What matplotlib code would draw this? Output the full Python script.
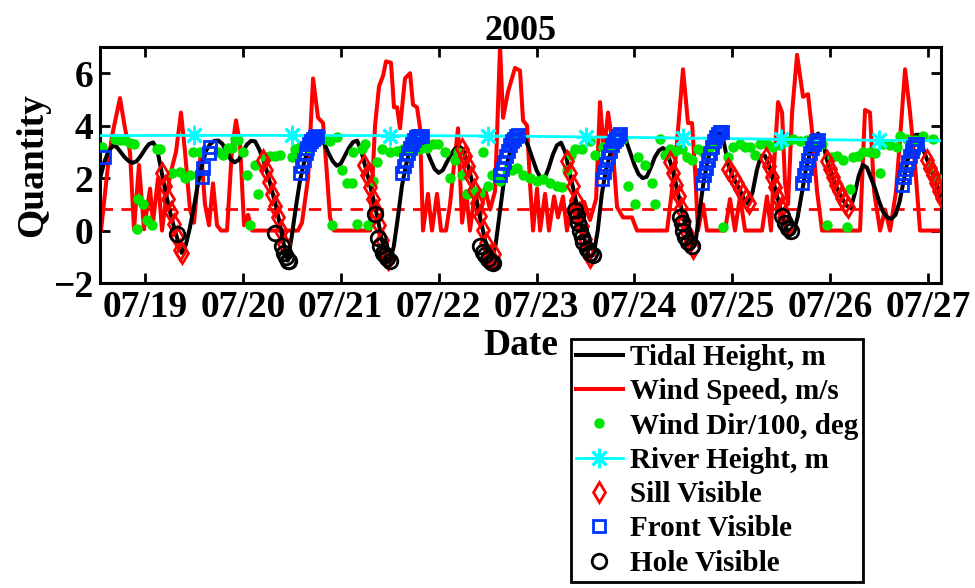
import numpy as np
import matplotlib
matplotlib.use('Agg')
import matplotlib.pyplot as plt
from matplotlib.lines import Line2D

plt.rcParams['font.family'] = ['Liberation Serif', 'DejaVu Serif']
plt.rcParams['font.weight'] = 'bold'
plt.rcParams['axes.labelweight'] = 'bold'
plt.rcParams['axes.titleweight'] = 'bold'

# tidal height, hourly from 07/18 12:00 (m)
tide_start = 18.5
tide_h = [1.5, 2.0, 2.6, 3.0, 3.22, 3.2, 3.0, 2.8, 2.65, 2.58, 2.65, 2.85, 3.1, 3.3, 3.36,
          3.1, 2.3, 1.5, 0.8, 0.2, -0.35, -0.85,
          -0.55, 0.1, 0.9, 1.8, 2.5, 3.05, 3.3, 3.42, 3.43,
          3.3, 3.0, 2.72, 2.6, 2.7, 3.0, 3.28, 3.42, 3.4,
          3.1, 2.7, 2.2, 1.6, 1.0, 0.3, -0.5, -1.15,
          -0.2, 0.9, 1.9, 2.6, 3.1, 3.45, 3.6, 3.55,
          3.3, 2.95, 2.65, 2.47, 2.55, 2.85, 3.15, 3.37, 3.43,
          3.05, 2.45, 1.85, 1.2, 0.5, -0.3, -1.0, -1.2,
          -0.6, 0.5, 1.7, 2.5, 3.1, 3.5, 3.6, 3.45,
          3.1, 2.7, 2.35, 2.2, 2.3, 2.6, 2.9, 3.12, 3.2,
          3.1, 2.6, 2.0, 1.3, 0.6, -0.1, -0.8, -1.1,
          -0.5, 0.7, 1.9, 2.7, 3.25, 3.6, 3.7, 3.55,
          3.2, 2.75, 2.3, 2.0, 2.0, 2.4, 2.9, 3.25, 3.35,
          3.0, 2.3, 1.6, 0.9, 0.2, -0.5, -1.05, -0.9,
          0.0, 1.4, 2.3, 2.9, 3.35, 3.65, 3.65,
          3.4, 2.95, 2.5, 2.15, 2.0, 2.05, 2.4, 2.8, 3.05, 3.15,
          3.0, 2.5, 1.9, 1.2, 0.5, -0.15, -0.6, -0.4,
          0.8, 1.9, 2.7, 3.25, 3.6, 3.75, 3.3,
          2.5, 2.1, 1.8, 1.5, 1.15, 1.0,
          1.5, 2.3, 2.85, 2.85, 2.5, 1.9, 1.3, 0.7, 0.2, -0.2, -0.05, 0.5,
          1.4, 2.3, 2.95, 3.4, 3.7, 3.55,
          2.8, 2.3, 1.85, 1.5, 1.2, 0.95, 0.85, 1.4, 2.1, 2.5,
          2.4, 2.0, 1.6, 1.1, 0.7, 0.5, 0.45, 0.6,
          1.1, 1.9, 2.7, 3.3, 3.65, 3.65,
          3.0, 2.6, 2.2, 1.8, 1.35, 1.0]
tide_t = tide_start + np.arange(len(tide_h)) / 24.0

# wind speed (m/s), day of July
wind_t = [18.50, 18.551, 18.623, 18.663, 18.745, 18.796, 18.847, 18.888, 18.939, 18.990,
          19.052, 19.082, 19.133, 19.174, 19.225, 19.276, 19.317, 19.368, 19.409, 19.460,
          19.501, 19.542, 19.573, 19.613, 19.654, 19.695, 19.736, 19.777, 19.838, 19.889,
          19.930, 19.971, 20.012, 20.053, 20.094, 20.563, 20.604, 20.666, 20.717, 20.768,
          20.819, 20.850, 20.890, 20.931, 21.299, 21.350, 21.391, 21.432, 21.462, 21.513,
          21.544, 21.575, 21.605, 21.656, 21.708, 21.738, 21.779, 21.810, 21.840, 21.891,
          21.932, 21.983, 22.024, 22.075, 22.116, 22.157, 22.198, 22.239, 22.280, 22.320,
          22.372, 22.423, 22.474, 22.525, 22.576, 22.627, 22.658, 22.709, 22.780, 22.831,
          22.862, 22.903, 22.933, 22.964, 23.005, 23.036, 23.087, 23.127, 23.179, 23.219,
          23.270, 23.311, 23.362, 23.424, 23.485, 23.546, 23.608, 23.648, 23.689, 23.730,
          23.771, 23.822, 23.883, 23.975, 24.026, 24.333, 24.415, 24.496, 24.547, 24.588,
          24.619, 24.649, 24.701, 24.741, 24.925, 24.976, 25.027, 25.078, 25.130, 25.303,
          25.354, 25.395, 25.426, 25.467, 25.508, 25.538, 25.569, 25.610, 25.661, 25.722,
          25.773, 25.814, 25.865, 25.916, 26.304, 26.355, 26.406, 26.447, 26.509, 26.560,
          26.611, 26.672, 26.713, 26.764, 26.815, 26.866, 26.917, 27.173]
wind_v = [0.0, 0.0, 2.5, 3.6, 5.05, 3.9, 3.0, 0.05, 2.5, 0.05,
          1.6, 0.3, 2.0, 0.0, 1.5, 2.4, 3.0, 4.5, 3.0, 0.8,
          0.3, 2.0, 3.0, 1.0, 0.2, 1.8, 0.2, 0.0, 0.0, 3.1,
          4.2, 3.3, 0.2, 0.6, 0.0, 0.0, 0.3, 2.0, 5.8, 4.3,
          4.1, 2.6, 0.5, 0.0, 0.0, 4.0, 5.5, 5.9, 6.45, 6.4,
          4.7, 4.7, 3.9, 5.8, 6.0, 4.8, 4.7, 3.9, 0.0, 1.4,
          0.0, 1.4, 0.0, 0.0, 1.0, 2.5, 3.9, 0.3, 1.5, 0.0,
          1.5, 0.5, 1.6, 0.8, 1.5, 7.0, 4.3, 5.3, 6.2, 6.1,
          4.2, 4.0, 1.8, 0.0, 1.6, 0.0, 1.4, 0.0, 1.3, 0.5,
          1.3, 0.0, 1.2, 0.0, 1.1, 0.4, 1.2, 4.9, 3.0, 4.5,
          3.5, 0.9, 0.5, 0.5, 0.0, 0.0, 2.5, 6.15, 4.1, 4.1,
          2.3, 0.0, 1.0, 0.0, 0.0, 1.2, 0.0, 1.3, 0.0, 0.0,
          1.3, 0.0, 2.5, 4.9, 4.5, 1.8, 1.0, 4.5, 6.7, 5.1,
          5.2, 3.8, 1.5, 0.0, 0.0, 4.6, 4.5, 1.5, 0.0, 0.8,
          0.0, 1.5, 3.5, 6.15, 4.5, 2.5, 0.0, 0.0]

# wind direction / 100 (deg)
wdir_t = [18.561, 18.694, 18.745, 18.796, 18.847, 18.888, 18.919, 18.929, 18.980, 19.021,
          19.072, 19.123, 19.154, 19.276, 19.358, 19.409, 19.460, 19.491, 19.562, 19.746,
          19.797, 19.848, 19.889, 19.920, 19.951, 20.002, 20.042, 20.073, 20.124, 20.155,
          20.226, 20.277, 20.329, 20.380, 20.502, 20.533, 20.584, 20.686, 20.768, 20.839,
          20.890, 20.911, 20.962, 21.013, 21.064, 21.115, 21.125, 21.166, 21.217, 21.248,
          21.278, 21.330, 21.370, 21.421, 21.503, 21.575, 21.636, 21.708, 21.759, 21.810,
          21.881, 21.942, 21.994, 22.065, 22.116, 22.167, 22.198, 22.239, 22.290, 22.351,
          22.423, 22.453, 22.504, 22.545, 22.586, 22.627, 22.698, 22.749, 22.801, 22.862,
          22.933, 23.005, 23.066, 23.138, 23.209, 23.260, 23.311, 23.352, 23.393, 23.465,
          23.546, 23.597, 23.679, 23.751, 23.802, 23.853, 23.883, 23.934, 24.006, 24.037,
          24.108, 24.180, 24.210, 24.261, 24.312, 24.363, 24.415, 24.486, 24.537, 24.588,
          24.649, 24.701, 24.772, 24.823, 24.905, 24.956, 25.007, 25.079, 25.130, 25.181,
          25.232, 25.283, 25.354, 25.416, 25.487, 25.559, 25.620, 25.691, 25.763, 25.844,
          25.916, 25.967, 26.018, 26.069, 26.130, 26.171, 26.202, 26.233, 26.284, 26.335,
          26.406, 26.458, 26.509, 26.539, 26.611, 26.682, 26.713, 26.784, 26.866, 26.948,
          26.999, 27.050, 27.101]
wdir_v = [3.2, 3.5, 3.45, 3.45, 3.35, 3.3, 0.05, 1.2, 1.0, 0.4,
          0.2, 3.1, 3.1, 2.2, 2.25, 2.0, 2.1, 3.0, 3.0, 3.0,
          2.9, 3.15, 3.15, 3.5, 3.45, 3.0, 2.1, 0.2, 2.5, 1.4,
          2.8, 2.85, 2.85, 2.9, 2.8, 3.1, 3.2, 3.1, 3.4, 3.5,
          3.4, 0.2, 3.55, 2.3, 1.8, 1.8, 3.0, 0.25, 3.1, 3.3,
          0.2, 1.9, 2.6, 3.1, 3.0, 3.05, 3.1, 3.05, 3.2, 3.1,
          3.15, 3.3, 3.3, 3.0, 2.0, 2.7, 3.0, 2.1, 1.4, 1.5,
          1.45, 3.0, 1.7, 2.1, 2.05, 1.9, 2.3, 2.3, 2.4, 2.1,
          2.0, 1.9, 1.95, 1.8, 1.7, 1.65, 2.3, 2.9, 3.1, 3.1,
          3.4, 2.9, 3.2, 3.2, 3.5, 3.6, 3.5, 1.7, 1.0, 2.8,
          2.5, 1.8, 1.0, 3.5, 2.9, 3.1, 3.05, 3.1, 2.8, 2.7,
          3.1, 3.0, 3.2, 3.3, 0.15, 2.8, 3.2, 3.3, 3.2, 3.2,
          2.9, 3.3, 3.3, 3.2, 3.25, 3.4, 3.5, 3.4, 3.45, 3.35,
          3.3, 0.2, 2.8, 2.85, 2.7, 0.15, 1.6, 2.8, 2.85, 3.0,
          3.0, 2.95, 2.2, 3.3, 3.25, 3.2, 3.6, 3.5, 3.45, 3.6,
          2.4, 3.5, 2.0]

# river height (m), daily at noon
river_t = [18.5, 19.5, 20.5, 21.5, 22.5, 23.5, 24.5, 25.5, 26.5, 27.5]
river_v = [3.62, 3.63, 3.63, 3.62, 3.61, 3.57, 3.53, 3.48, 3.44, 3.42]

wind_thresh = 0.82

# observations
sill_t = [19.174, 19.205, 19.235, 19.266, 19.297, 19.327, 19.358, 19.378,
          20.206, 20.237, 20.267, 20.298, 20.329, 20.359, 20.390, 20.420,
          21.24, 21.27, 21.30, 21.33, 21.36, 21.39, 21.42, 21.45, 21.48,
          22.24, 22.27, 22.30, 22.33, 22.36, 22.39, 22.42, 22.45, 22.48, 22.51, 22.54, 22.57,
          23.31, 23.34, 23.37, 23.40, 23.43, 23.46, 23.49, 23.52, 23.55,
          24.36, 24.39, 24.42, 24.45, 24.48, 24.51, 24.54, 24.57, 24.60,
          24.956, 24.987, 25.018, 25.048, 25.079, 25.110, 25.140, 25.171,
          25.344, 25.375, 25.405, 25.436, 25.467, 25.497, 25.528, 25.559,
          25.967, 25.998, 26.029, 26.059, 26.090, 26.121, 26.151, 26.182,
          26.989, 27.019, 27.050, 27.081, 27.111, 27.142]
sill_v = [2.2, 1.7, 1.2, 0.7, 0.25, -0.25, -0.75, -0.85,
          2.7, 2.3, 1.85, 1.4, 0.95, 0.5, 0.0, -0.5,
          2.5, 2.1, 1.65, 1.2, 0.75, 0.2, -0.35, -0.85, -1.1,
          3.12, 2.86, 2.48, 2.05, 1.55, 1.05, 0.54, 0.04, -0.46, -0.97, -1.1, -0.9,
          2.65, 2.2, 1.7, 1.18, 0.68, 0.17, -0.33, -0.77, -1.02,
          2.6, 2.2, 1.75, 1.3, 0.85, 0.35, -0.1, -0.45, -0.65,
          2.35, 2.2, 2.0, 1.8, 1.6, 1.4, 1.2, 1.05,
          2.75, 2.45, 2.05, 1.65, 1.25, 0.85, 0.5, 0.15,
          2.65, 2.35, 2.05, 1.75, 1.5, 1.25, 1.05, 0.9,
          2.7, 2.4, 2.1, 1.8, 1.5, 1.25]

front_t = [18.582,
           19.583, 19.593, 19.654, 19.665,
           20.58, 20.60, 20.62, 20.64, 20.66, 20.68, 20.70, 20.72, 20.74, 20.76,
           21.63, 21.65, 21.67, 21.69, 21.71, 21.73, 21.75, 21.77, 21.79, 21.81, 21.83,
           22.63, 22.65, 22.67, 22.69, 22.71, 22.73, 22.75, 22.77, 22.79, 22.81,
           23.67, 23.69, 23.71, 23.73, 23.75, 23.77, 23.79, 23.81, 23.83, 23.85,
           24.69, 24.71, 24.73, 24.75, 24.77, 24.79, 24.81, 24.83, 24.85, 24.87, 24.89,
           25.71, 25.73, 25.75, 25.77, 25.79, 25.81, 25.83, 25.85, 25.87,
           26.73, 26.75, 26.77, 26.79, 26.81, 26.83, 26.85, 26.87, 26.89]
front_v = [2.8,
           2.05, 2.4, 2.95, 3.2,
           2.2, 2.45, 2.7, 2.95, 3.15, 3.3, 3.4, 3.5, 3.55, 3.6,
           2.2, 2.45, 2.7, 2.95, 3.15, 3.3, 3.45, 3.55, 3.6, 3.6, 3.6,
           2.1, 2.35, 2.6, 2.85, 3.05, 3.25, 3.4, 3.5, 3.6, 3.65,
           1.95, 2.25, 2.55, 2.8, 3.05, 3.25, 3.4, 3.5, 3.6, 3.7,
           1.8, 2.1, 2.4, 2.7, 2.95, 3.2, 3.4, 3.55, 3.7, 3.75, 3.75,
           1.8, 2.1, 2.4, 2.7, 2.95, 3.15, 3.3, 3.4, 3.45,
           1.75, 2.05, 2.35, 2.6, 2.85, 3.05, 3.2, 3.3, 3.3]

hole_t = [19.33,
          20.33, 20.40, 20.42, 20.44, 20.46, 20.47,
          21.35, 21.38, 21.40, 21.43, 21.45, 21.47, 21.50,
          22.42, 22.45, 22.47, 22.50, 22.53, 22.55,
          23.393, 23.413, 23.424, 23.444, 23.465, 23.475, 23.516, 23.546, 23.577,
          24.466, 24.486, 24.496, 24.517, 24.547, 24.588,
          25.51, 25.54, 25.57, 25.60]
hole_v = [-0.15,
          -0.1, -0.6, -0.85, -1.0, -1.15, -1.15,
          0.65, -0.3, -0.6, -0.85, -0.95, -1.05, -1.15,
          -0.6, -0.8, -0.95, -1.1, -1.2, -1.25,
          0.78, 0.55, 0.3, 0.0, -0.25, -0.45, -0.7, -0.85, -0.95,
          0.52, 0.27, 0.0, -0.25, -0.45, -0.6,
          0.55, 0.3, 0.1, 0.0]

day_ticks = [19, 20, 21, 22, 23, 24, 25, 26, 27]
day_labels = ['07/19', '07/20', '07/21', '07/22', '07/23', '07/24', '07/25', '07/26', '07/27']

green = '#00e600'
blue = '#0033ff'
star = (8, 2, 0)

fig = plt.figure(figsize=(9.75, 5.88), dpi=100)
ax = fig.add_axes([0.1026, 0.5187, 0.8626, 0.4014])

ax.plot(tide_t, tide_h, color='k', lw=2.9, zorder=3)
ax.plot(wind_t, wind_v, color='r', lw=2.9, zorder=2)
ax.axhline(wind_thresh, color='r', lw=2.0, dashes=(4.5, 3), zorder=2)
ax.plot(wdir_t, wdir_v, ls='none', marker='o', ms=6.5, color=green, mec=green, zorder=4)
ax.plot(river_t, river_v, color='cyan', lw=2.0, marker=star, ms=14, mew=2.0,
        markevery=slice(1, -1), zorder=4)
ax.plot(sill_t, sill_v, ls='none', marker='d', ms=10, mfc='none', mec='r', mew=2.0, zorder=5)
ax.plot(front_t, front_v, ls='none', marker='s', ms=8.5, mfc='none', mec=blue, mew=2.0, zorder=5)
ax.plot(hole_t, hole_v, ls='none', marker='o', ms=10.5, mfc='none', mec='k', mew=2.0, zorder=5)

ax.set_xlim(18.541, 27.132)
ax.set_ylim(-2, 7)
ax.set_yticks([-2, 0, 2, 4, 6])
ax.set_xticks(day_ticks)
ax.set_xticklabels(day_labels)
ax.tick_params(direction='in', length=7, width=2, labelsize=27, top=True, right=True, pad=5)
for s in ax.spines.values():
    s.set_linewidth(2.2)

ax.set_title('2005', fontsize=26, pad=5)
ax.set_xlabel('Date', fontsize=27, labelpad=2)
ax.set_ylabel('Quantity', fontsize=27, labelpad=2)

handles = [
    Line2D([], [], color='k', lw=2.9),
    Line2D([], [], color='r', lw=2.9),
    Line2D([], [], ls='none', marker='o', ms=6.5, color=green),
    Line2D([], [], color='cyan', lw=2.0, marker=star, ms=14, mew=2.0),
    Line2D([], [], ls='none', marker='d', ms=10, mfc='none', mec='r', mew=2.0),
    Line2D([], [], ls='none', marker='s', ms=8.5, mfc='none', mec=blue, mew=2.0),
    Line2D([], [], ls='none', marker='o', ms=10.5, mfc='none', mec='k', mew=2.0),
]
labels = ['Tidal Height, m', 'Wind Speed, m/s', 'Wind Dir/100, deg', 'River Height, m',
          'Sill Visible', 'Front Visible', 'Hole Visible']
leg = fig.legend(handles, labels, loc='upper left', bbox_to_anchor=(571 / 975, 1 - 339 / 588),
                 bbox_transform=fig.transFigure, fontsize=21, frameon=True, fancybox=False,
                 edgecolor='k', framealpha=1, borderaxespad=0, borderpad=0.17,
                 labelspacing=0.25, handlelength=1.6, handletextpad=0.25, numpoints=1)
leg.get_frame().set_linewidth(2)

fig.savefig('out.png', dpi=100)
